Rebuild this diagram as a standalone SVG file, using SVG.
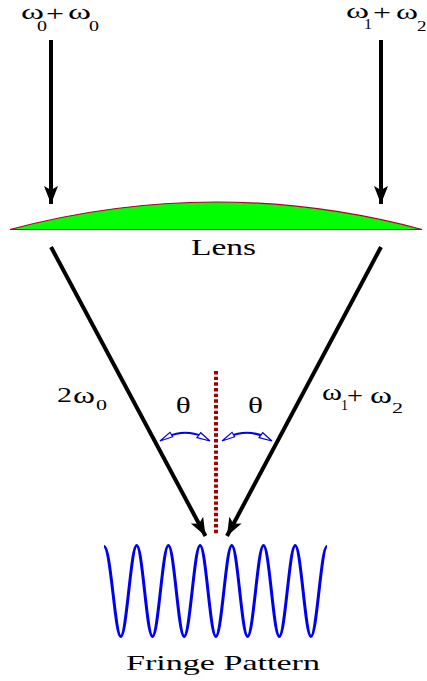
<svg xmlns="http://www.w3.org/2000/svg" width="427" height="681" viewBox="0 0 427 681">
<style>
text{font-family:"Liberation Serif","Times New Roman",serif;fill:#000}
.w{font-size:24px}
.wt{font-size:20px}
.p{font-size:22px}
.s{font-size:15px}
.l{font-size:24px}
.f{font-size:21px}
.t{font-size:23px}
.d{font-size:21px}
.beam{fill:none;stroke:#000;stroke-width:4}
.arc{fill:none;stroke:#0000e6;stroke-width:2.2}
.ah{fill:#fff;stroke:#0000e6;stroke-width:1.2}
</style>
<defs>
<marker id="head" markerUnits="userSpaceOnUse" markerWidth="20" markerHeight="18" refX="18" refY="9" orient="auto">
<path d="M0 2 L18 9 L0 16 L4 9 Z" fill="#000"/>
</marker>
</defs>
<rect width="427" height="681" fill="#fff"/>
<g id="lens">
<path d="M10 229.5 Q216 174.5 422 229.5 Z" fill="#00ff00" stroke="#b00020" stroke-width="1.2"/>
<text class="l" x="191" y="255" textLength="65" lengthAdjust="spacingAndGlyphs">Lens</text>
</g>
<g id="connectors">
<path class="beam" d="M51 40 V204" marker-end="url(#head)"/>
<path class="beam" d="M381 40 V204" marker-end="url(#head)"/>
<path class="beam" d="M51 247 L205.5 536" marker-end="url(#head)"/>
<path class="beam" d="M381 247 L227 536" marker-end="url(#head)"/>
</g>
<g id="axis">
<path d="M216 371 V534" fill="none" stroke="#a00000" stroke-width="4" stroke-dasharray="3.4 2.27"/>
</g>
<g id="angle-left">
<path class="arc" d="M168 436.5 Q185 429 203 436.5"/>
<path class="ah" d="M160 441 L170 432.3 L172.7 436.7 Z"/>
<path class="ah" d="M210 441 L200.7 432.7 L197 437.7 Z"/>
<text class="t" x="175.7" y="413" textLength="15" lengthAdjust="spacingAndGlyphs">θ</text>
</g>
<g id="angle-right">
<path class="arc" d="M229 436.5 Q247 429 264 436.5"/>
<path class="ah" d="M222 441 L232 432.3 L234.7 436.7 Z"/>
<path class="ah" d="M272 441 L262.7 432.7 L259 437.7 Z"/>
<text class="t" x="248" y="413" textLength="15" lengthAdjust="spacingAndGlyphs">θ</text>
</g>
<g id="fringe">
<path fill="none" stroke="#0000f0" stroke-width="3" stroke-linejoin="round" d="M104 546.5 C110.8 546 115 636.5 120.8 636.5 C126.6 636.5 130.9 545.5 136.7 545.5 C142.5 545.5 146.7 636.5 152.5 636.5 C158.3 636.5 162.6 545.5 168.4 545.5 C174.2 545.5 178.4 636.5 184.2 636.5 C190 636.5 194.3 545.5 200.1 545.5 C205.9 545.5 210.1 636.5 215.9 636.5 C221.7 636.5 226 545.5 231.8 545.5 C237.6 545.5 241.8 636.5 247.6 636.5 C253.4 636.5 257.7 545.5 263.5 545.5 C269.3 545.5 273.5 636.5 279.3 636.5 C285.1 636.5 289.4 545.5 295.2 545.5 C301 545.5 305.2 636.5 311 636.5 C316.8 636.5 321.1 546 327 546.5"/>
<text class="f" x="126" y="670" textLength="194" lengthAdjust="spacingAndGlyphs">Fringe Pattern</text>
</g>
<g id="label-top-left">
<text class="wt" x="21" y="19" textLength="23" lengthAdjust="spacingAndGlyphs">ω</text>
<text class="s" x="37" y="31" textLength="10" lengthAdjust="spacingAndGlyphs">0</text>
<text class="p" x="46" y="21" textLength="18" lengthAdjust="spacingAndGlyphs">+</text>
<text class="wt" x="68" y="19" textLength="23" lengthAdjust="spacingAndGlyphs">ω</text>
<text class="s" x="89" y="31" textLength="10" lengthAdjust="spacingAndGlyphs">0</text>
</g>
<g id="label-top-right">
<text class="wt" x="346" y="18" textLength="23" lengthAdjust="spacingAndGlyphs">ω</text>
<text class="s" x="364" y="29" textLength="8" lengthAdjust="spacingAndGlyphs">1</text>
<text class="p" x="373" y="20" textLength="18" lengthAdjust="spacingAndGlyphs">+</text>
<text class="wt" x="396" y="19" textLength="22" lengthAdjust="spacingAndGlyphs">ω</text>
<text class="s" x="417" y="31" textLength="9.5" lengthAdjust="spacingAndGlyphs">2</text>
</g>
<g id="label-left-beam">
<text class="d" x="57" y="402" textLength="15" lengthAdjust="spacingAndGlyphs">2</text>
<text class="w" x="73" y="403" textLength="22" lengthAdjust="spacingAndGlyphs">ω</text>
<text class="s" x="96" y="410" textLength="11" lengthAdjust="spacingAndGlyphs">0</text>
</g>
<g id="label-right-beam">
<text class="w" x="322" y="400" textLength="20" lengthAdjust="spacingAndGlyphs">ω</text>
<text class="s" x="341" y="410" textLength="7" lengthAdjust="spacingAndGlyphs">1</text>
<text class="w" x="347" y="403" textLength="16" lengthAdjust="spacingAndGlyphs">+</text>
<text class="w" x="370" y="403" textLength="22" lengthAdjust="spacingAndGlyphs">ω</text>
<text class="s" x="392" y="413" textLength="11" lengthAdjust="spacingAndGlyphs">2</text>
</g>
</svg>
